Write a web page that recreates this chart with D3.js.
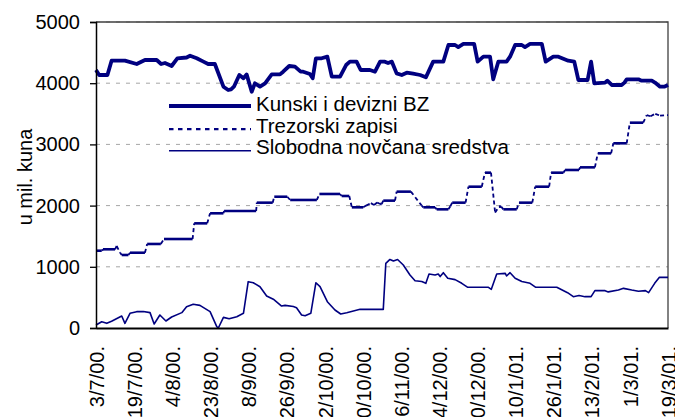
<!DOCTYPE html>
<html>
<head>
<meta charset="utf-8">
<script src="https://cdnjs.cloudflare.com/ajax/libs/d3/7.8.5/d3.min.js"></script>
<style>
  body { margin: 0; background: #fff; }
  text { font-family: "Liberation Sans", Arial, sans-serif; fill: #000; }
</style>
</head>
<body>
<div id="chart"></div>
<script>
// category labels (working days, a label every 12th day)
var tickLabels = ["3/7/00.", "19/7/00.", "4/8/00.", "23/8/00.", "8/9/00.", "26/9/00.", "12/10/00.", "30/10/00.",
  "16/11/00.", "4/12/00.", "20/12/00.", "10/1/01.", "26/1/01.", "13/2/01.", "1/3/01.", "19/3/01."];
var yTicks = [0, 1000, 2000, 3000, 4000, 5000];
var seriesNames = ["Kunski i devizni BZ", "Trezorski zapisi", "Slobodna novčana sredstva"];

// [day index, value in mil. kuna]
var kunski = [[0, 4216], [1, 4134], [3.6, 4134], [4.9, 4368], [9.1, 4368], [12.8, 4314], [15.4, 4379], [19.1, 4379],
  [20.5, 4314], [21.7, 4330], [23.8, 4281], [25.6, 4407], [28.5, 4420], [29.6, 4449], [31.7, 4407], [33.8, 4352],
  [35.3, 4314], [37.4, 4314], [40.1, 3943], [41.6, 3889], [42.5, 3900], [43.4, 3943], [45.1, 4134], [46.4, 4080],
  [47.4, 4144], [49, 3861], [50, 3998], [51.6, 3943], [53.2, 3998], [55.3, 4144], [57.9, 4144], [58.9, 4188],
  [60.8, 4281], [62.6, 4270], [64.4, 4188], [65.2, 4188], [67.3, 4150], [68.2, 4080], [69.2, 4407], [71, 4407],
  [72.8, 4434], [74.2, 4107], [76.8, 4107], [78.7, 4297], [79.9, 4352], [82, 4352], [83.3, 4216], [86.2, 4216],
  [87.8, 4188], [89.4, 4352], [90.9, 4352], [91.9, 4330], [93.1, 4352], [94.6, 4161], [96.2, 4134], [97.8, 4172],
  [99.8, 4155], [102, 4134], [103.8, 4096], [106.1, 4352], [109.3, 4352], [110.9, 4624], [113, 4624], [114, 4590],
  [115.6, 4641], [119, 4641], [120.1, 4352], [121.9, 4434], [124, 4434], [125, 4063], [126.6, 4352], [129.2, 4352],
  [130.3, 4434], [131.9, 4624], [134, 4624], [135, 4590], [136.6, 4641], [140.3, 4641], [141.5, 4352], [143.9, 4434],
  [145.5, 4434], [148.6, 4368], [150.5, 4352], [151.8, 4052], [154.7, 4052], [155.8, 4352], [156.8, 3998],
  [160.2, 4010], [160.9, 4041], [162.3, 3971], [165.4, 3971], [166.3, 4010], [167, 4063], [170.7, 4063],
  [171.7, 4041], [174.9, 4041], [175.9, 4010], [177.5, 3943], [178.8, 3943], [180, 3971]];

var trezorski = [[0, 1263], [1.8, 1263], [2.2, 1286], [6, 1286], [6.5, 1340], [7.6, 1230], [8.1, 1193], [10.2, 1193],
  [10.7, 1230], [15.4, 1230], [16.1, 1373], [20.4, 1373], [21.4, 1454], [30.4, 1454], [30.9, 1710], [35, 1710],
  [35.9, 1874], [40.1, 1874], [40.3, 1912], [50.4, 1912], [50.6, 2048], [55.6, 2048], [56.1, 2145], [60.2, 2145],
  [61.1, 2092], [69.5, 2092], [70.3, 2190], [76.8, 2190], [77.3, 2157], [79.7, 2157], [80.5, 1972], [84.1, 1972],
  [85, 2000], [86.5, 2040], [87.5, 2010], [88.5, 2050], [89.4, 2026], [89.9, 2026], [90.4, 2081], [94.1, 2081],
  [94.6, 2228], [99.1, 2228], [102.5, 2000], [103, 1972], [106.7, 1972], [107.2, 1939], [110.9, 1939], [111.5, 1990],
  [112.1, 2048], [116.3, 2048], [117.2, 2309], [121.4, 2309], [122.4, 2538], [124.3, 2538], [125.6, 1885],
  [126.8, 1983], [127.5, 1983], [128.2, 1939], [132.4, 1939], [133.1, 2048], [137.3, 2048], [138.2, 2309],
  [142.6, 2309], [143.2, 2538], [147.1, 2538], [147.6, 2582], [152, 2582], [152.3, 2625], [157, 2625],
  [157.9, 2854], [162.1, 2854], [162.8, 3018], [167, 3018], [168, 3355], [172.2, 3355], [173.3, 3480],
  [174.5, 3460], [176, 3500], [177.5, 3470], [180, 3480]];

var slobodna = [[0, 49], [1.8, 103], [3.4, 76], [4.9, 110], [8.1, 196], [9.1, 76], [10.7, 240], [12.8, 267],
  [14.9, 270], [17, 251], [18.3, 65], [20.1, 212], [22, 114], [23.8, 180], [27, 251], [28.5, 349], [30.6, 387],
  [32.7, 370], [35.9, 267], [38, 22], [38.5, 0], [40.1, 174], [41.9, 150], [44.3, 185], [46.4, 240], [47.9, 757],
  [49.5, 740], [51.6, 675], [53.7, 523], [55.8, 470], [58.4, 359], [59.5, 370], [62.1, 350], [63.1, 330],
  [64.7, 212], [65.8, 200], [67.6, 240], [69.2, 740], [70.5, 675], [72.8, 430], [75.2, 294], [77, 229], [78.9, 250],
  [81, 278], [83.1, 305], [90.4, 305], [91.2, 1057], [92.5, 1120], [93.6, 1095], [94.9, 1120], [96.7, 1029],
  [98.8, 866], [100.4, 773], [102.5, 760], [103.8, 730], [104.8, 882], [106.7, 866], [107.7, 882], [108.3, 840],
  [109.3, 904], [110.7, 812], [113, 790], [115.1, 730], [117, 665], [123.5, 665], [124.4, 632], [126.1, 882],
  [128.8, 893], [129.2, 850], [130.3, 904], [131.9, 812], [134, 760], [136.6, 730], [138.4, 665], [145, 665],
  [148.4, 577], [150.2, 512], [152, 530], [153.9, 512], [155.8, 512], [157, 610], [160.2, 610], [161.2, 590],
  [164.4, 620], [166, 648], [168.6, 620], [170.7, 600], [172.9, 610], [173.9, 577], [175.8, 730], [177.3, 828],
  [180, 828]];

var navy = "#000080";
var width = 675, height = 417;
var plotL = 96, plotR = 668, plotT = 22, plotB = 328;

var svg = d3.select("#chart").append("svg")
  .attr("width", width)
  .attr("height", height);

var x = d3.scaleLinear().domain([0, (tickLabels.length - 1) * 12]).range([plotL, plotR]);
var y = d3.scaleLinear().domain([0, 5000]).range([plotB, plotT]);

// gridlines
svg.selectAll(".grid")
  .data(yTicks.filter(function (d) { return d > 0; }))
  .enter().append("line")
  .attr("class", "grid")
  .attr("x1", plotL).attr("x2", plotR)
  .attr("y1", function (d) { return y(d); })
  .attr("y2", function (d) { return y(d); })
  .attr("stroke", "#a6a6a6")
  .attr("stroke-width", 1)
  .attr("stroke-dasharray", "4,6");

// plot frame (top / right)
svg.append("path")
  .attr("d", "M" + plotL + "," + plotT + "H" + plotR + "V" + plotB)
  .attr("fill", "none")
  .attr("stroke", "#404040")
  .attr("stroke-width", 1.3);

var line = d3.line()
  .x(function (d) { return x(d[0]); })
  .y(function (d) { return y(d[1]); });

svg.append("path")
  .datum(slobodna)
  .attr("d", line)
  .attr("fill", "none")
  .attr("stroke", navy)
  .attr("stroke-width", 1.6)
  .attr("stroke-linejoin", "round");

// treasury bills: flat parts look solid, jumps show the dash pattern
var tSegs = d3.pairs(trezorski);
svg.selectAll(".tz")
  .data(tSegs)
  .enter().append("line")
  .attr("class", "tz")
  .attr("x1", function (d) { return x(d[0][0]); })
  .attr("y1", function (d) { return y(d[0][1]); })
  .attr("x2", function (d) { return x(d[1][0]); })
  .attr("y2", function (d) { return y(d[1][1]); })
  .attr("stroke", navy)
  .attr("stroke-width", function (d) { return d[0][1] === d[1][1] ? 2.6 : 1.8; })
  .attr("stroke-dasharray", function (d) { return d[0][1] === d[1][1] ? null : "4,3"; });

svg.append("path")
  .datum(kunski)
  .attr("d", line)
  .attr("fill", "none")
  .attr("stroke", navy)
  .attr("stroke-width", 3.8)
  .attr("stroke-linejoin", "round");

// axes
var yAxis = d3.axisLeft(y).tickValues(yTicks).tickSize(6).tickPadding(10).tickFormat(d3.format("d"));
var gy = svg.append("g")
  .attr("transform", "translate(" + plotL + ",0)")
  .call(yAxis);
gy.select(".domain").attr("stroke", "#000").attr("stroke-width", 1.5);
gy.selectAll(".tick line").attr("stroke", "#000").attr("stroke-width", 1.3);
gy.selectAll(".tick text")
  .style("font-size", "20px")
  .style("font-family", "Liberation Sans, Arial, sans-serif");

var xAxis = d3.axisBottom(x)
  .tickValues(tickLabels.map(function (d, i) { return i * 12; }))
  .tickFormat(function (d) { return tickLabels[d / 12]; })
  .tickSize(0);
var gx = svg.append("g")
  .attr("transform", "translate(0," + plotB + ")")
  .call(xAxis);
gx.select(".domain").attr("stroke", "#000").attr("stroke-width", 2);
gx.selectAll(".tick text")
  .attr("transform", "rotate(-90)")
  .attr("x", -18)
  .attr("y", 0)
  .attr("dy", "0.36em")
  .style("text-anchor", "end")
  .style("font-size", "20px")
  .style("font-family", "Liberation Sans, Arial, sans-serif");

svg.append("text")
  .attr("transform", "translate(32,177) rotate(-90)")
  .attr("text-anchor", "middle")
  .style("font-size", "20px")
  .text("u mil. kuna");

// legend
var legend = svg.append("g");
var rows = legend.selectAll("g")
  .data(seriesNames)
  .enter().append("g")
  .attr("transform", function (d, i) { return "translate(169," + (111 + i * 21.6) + ")"; });
rows.append("line")
  .attr("x1", 0).attr("x2", 82)
  .attr("y1", function (d, i) { return i === 0 ? -5 : -3.5; })
  .attr("y2", function (d, i) { return i === 0 ? -5 : -3.5; })
  .attr("stroke", navy)
  .attr("stroke-width", function (d, i) { return i === 0 ? 3.8 : (i === 1 ? 2.4 : 1.6); })
  .attr("stroke-dasharray", function (d, i) { return i === 1 ? "4.5,4.5" : null; });
rows.append("text")
  .attr("x", 87)
  .style("font-size", "20.5px")
  .text(function (d) { return d; });
</script>
</body>
</html>
